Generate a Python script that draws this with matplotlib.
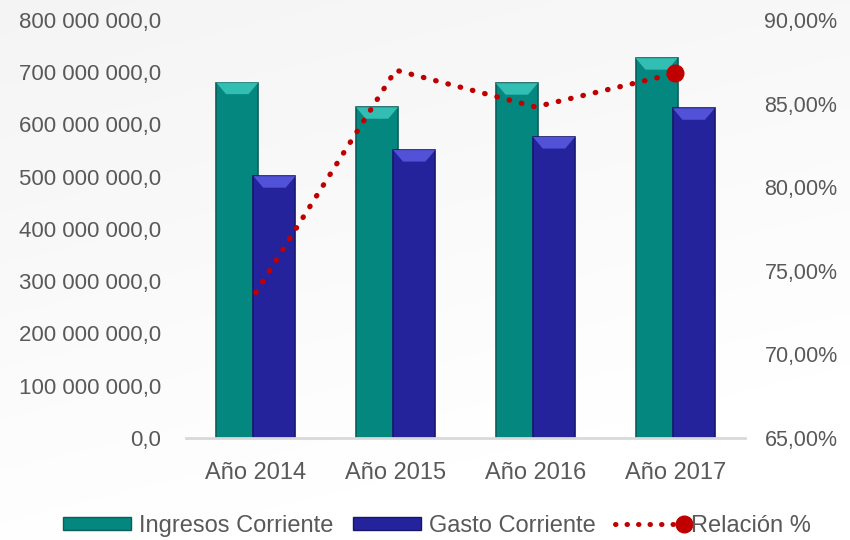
import numpy as np
import matplotlib
matplotlib.use("Agg")
import matplotlib.pyplot as plt
from matplotlib.lines import Line2D
from matplotlib.patches import Patch
from matplotlib.legend_handler import HandlerBase
from matplotlib.ticker import FuncFormatter

plt.rcParams['font.family'] = ['Liberation Sans', 'DejaVu Sans']

# data
years = ["Año 2014", "Año 2015", "Año 2016", "Año 2017"]
ingresos = [680e6, 633e6, 679e6, 727e6]
gasto = [501e6, 551e6, 576e6, 631e6]
relacion = [73.7, 87.0, 84.8, 86.8]

TEXT = "#595959"
TEAL, TEAL_TOP, TEAL_EDGE = "#03877f", "#3cc8bd", "#0b5e59"
BLUE, BLUE_TOP, BLUE_EDGE = "#24239c", "#5b5be4", "#17166b"
RED = "#c00000"


class DotEndHandler(HandlerBase):
    # dotted line with one big marker at the right end, like the source legend
    def create_artists(self, legend, orig_handle, xdescent, ydescent,
                       width, height, fontsize, trans):
        y = height / 2 - ydescent
        x0, x1 = -xdescent, -xdescent + width
        line = Line2D([x0, x1 - 6], [y, y], color=RED, lw=3.6,
                      linestyle=(0, (0.1, 2.2)), dash_capstyle='round',
                      transform=trans)
        dot = Line2D([x1], [y], marker='o', ms=12, color=RED,
                     linestyle='none', transform=trans)
        return [line, dot]


fig = plt.figure(figsize=(8.5, 5.4), dpi=100)

# faint grey background fading to white
bg = fig.add_axes([0, 0, 1, 1], zorder=-10)
gx, gy = np.meshgrid(np.linspace(0, 1, 200), np.linspace(0, 1, 200))
shade = np.clip(1.0 - 0.9 * gy - 0.35 * gx, 0, 1)
bg.imshow(shade, cmap='Greys', vmin=0, vmax=11, aspect='auto',
          extent=[0, 1, 0, 1], origin='upper')
bg.axis('off')

ax = fig.add_axes([0.2188, 0.189, 0.6577, 0.774])
ax.patch.set_alpha(0)
x = np.arange(len(years))
w = 0.30
off = 0.133
bevel = 22e6
inset = 0.07

for xs, vals, col, top, edge in [(x - off, ingresos, TEAL, TEAL_TOP, TEAL_EDGE),
                                 (x + off, gasto, BLUE, BLUE_TOP, BLUE_EDGE)]:
    ax.bar(xs, vals, width=w, color=col, edgecolor=edge, linewidth=1.2, zorder=2)
    for xc, h in zip(xs, vals):
        l, r = xc - w / 2, xc + w / 2
        ax.fill([l, r, r - inset, l + inset], [h, h, h - bevel, h - bevel],
                color=top, alpha=0.85, lw=0, zorder=3)

ax.set_xlim(-0.5, 3.5)
ax.set_ylim(0, 800e6)
ax.set_yticks(np.arange(0, 800e6 + 1, 100e6))
ax.yaxis.set_major_formatter(FuncFormatter(
    lambda v, p: "{:,.1f}".format(v).replace(",", " ").replace(".", ",")))
ax.set_xticks(x)
ax.set_xticklabels(years)
for s in ['top', 'left', 'right']:
    ax.spines[s].set_visible(False)
ax.spines['bottom'].set_color("#d9d9d9")
ax.spines['bottom'].set_linewidth(2)
ax.tick_params(axis='y', length=0, pad=18, labelsize=16, labelcolor=TEXT)
ax.tick_params(axis='x', length=0, pad=17, labelsize=17, labelcolor=TEXT)

ax2 = ax.twinx()
ax2.plot(x, relacion, color=RED, lw=3.8, linestyle=(0, (0.1, 2.3)),
         dash_capstyle='round', marker='o', markevery=[3], ms=12, zorder=5)
ax2.set_ylim(65, 90)
ax2.set_yticks(np.arange(65, 90.1, 5))
ax2.yaxis.set_major_formatter(FuncFormatter(
    lambda v, p: "{:.2f}%".format(v).replace(".", ",")))
for s in ['top', 'left', 'right', 'bottom']:
    ax2.spines[s].set_visible(False)
ax2.tick_params(axis='y', length=0, pad=14, labelsize=15.5, labelcolor=TEXT)

handles = [Patch(facecolor=TEAL, edgecolor=TEAL_EDGE),
           Patch(facecolor=BLUE, edgecolor=BLUE_EDGE),
           Line2D([], [], color=RED)]
labels = ["Ingresos Corriente", "Gasto Corriente", "Relación %"]
fig.legend(handles, labels, loc='center', bbox_to_anchor=(0.514, 0.026),
           ncol=3, frameon=False, fontsize=17, labelcolor=TEXT,
           handlelength=2.9, handleheight=0.5, handletextpad=0.3,
           columnspacing=0.85, handler_map={Line2D: DotEndHandler()})

fig.savefig("out.png", dpi=100)
